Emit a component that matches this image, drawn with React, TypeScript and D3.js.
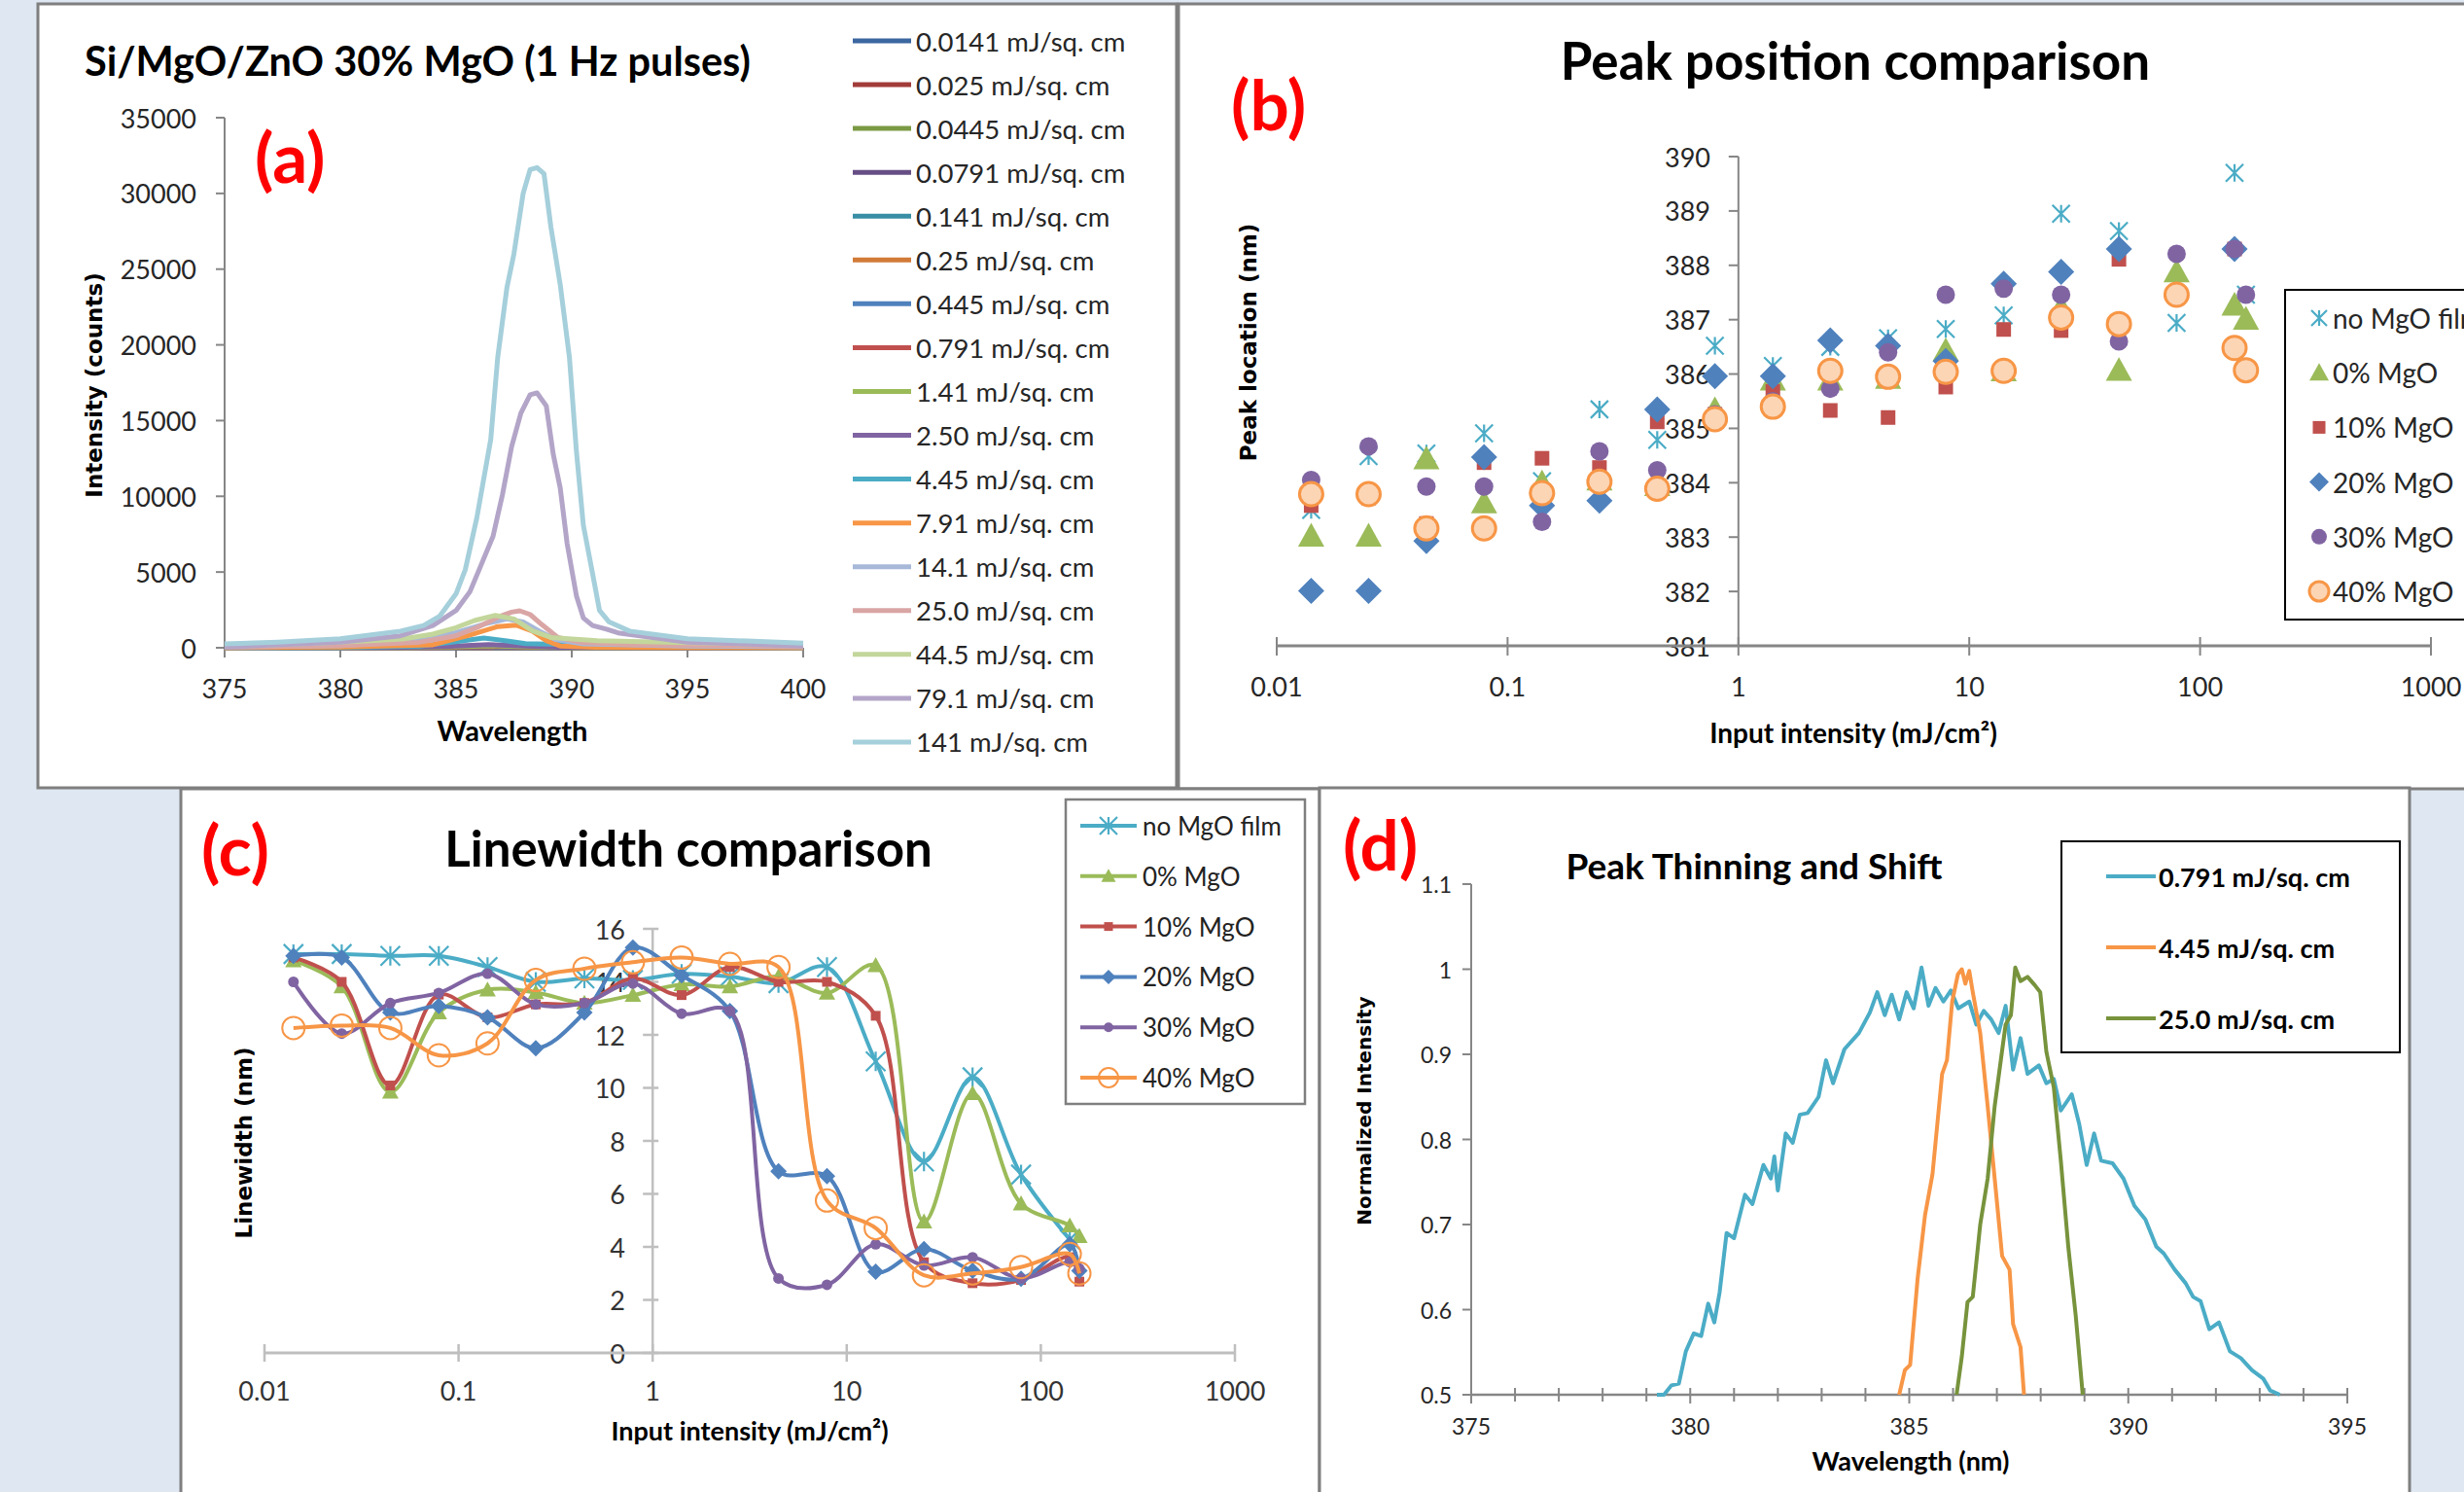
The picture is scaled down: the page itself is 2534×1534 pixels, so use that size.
import React from 'react';
import * as d3 from 'd3';

const FONT = "Lato, 'Open Sans', sans-serif";
const AXFONT = "'DejaVu Sans', Verdana, sans-serif";
const AXIS = '#868686';
const TXT = '#262626';
const RED = '#ff0000';

// ---------- (a) emission spectra, [wavelength nm, counts] ----------
const s0_0141: [number, number][] = [[375, 0], [386.5, 5], [400, 0]];
const s0_025: [number, number][] = [[375, 0], [386.5, 8], [400, 0]];
const s0_0445: [number, number][] = [[375, 0], [386.5, 12], [400, 0]];
const s0_0791: [number, number][] = [[375, 0], [386.5, 18], [400, 0]];
const s0_141: [number, number][] = [[375, 0], [385.5, 10], [386.5, 25], [388, 8], [400, 0]];
const s0_25: [number, number][] = [[375, 0], [385, 10], [386.5, 35], [388, 10], [400, 0]];
const s0_445: [number, number][] = [[375, 0], [385, 15], [386.5, 50], [388, 15], [400, 0]];
const s0_791: [number, number][] = [[375, 0], [384, 10], [386, 60], [387, 80], [388.5, 30], [400, 0]];
const s1_41: [number, number][] = [[375, 0], [383, 10], [385, 60], [386.5, 130], [388, 60], [390, 10], [400, 0]];
const s2_50: [number, number][] = [[375, 0], [382, 10], [384.5, 80], [386.4, 210], [388, 120], [389.5, 30], [400, 0]];
const s4_45: [number, number][] = [[375, 0], [380, 20], [383.5, 120], [385, 400], [386.2, 640], [387.2, 450], [388, 270], [389.5, 220], [391, 100], [395, 30], [400, 0]];
const s7_91: [number, number][] = [[375, 0], [380, 50], [384, 200], [385.5, 800], [386.8, 1400], [387.6, 1500], [388.3, 1100], [388.9, 470], [389.5, 120], [391, 40], [400, 0]];
const s14_1: [number, number][] = [[375, 50], [380, 150], [383, 400], [385, 1000], [386.3, 1600], [387.2, 1900], [387.9, 1700], [388.6, 1100], [389.3, 550], [390.5, 250], [395, 120], [400, 60]];
const s25_0: [number, number][] = [[375, 50], [380, 150], [383.4, 360], [385, 790], [385.9, 1330], [386.9, 2080], [387.4, 2350], [387.75, 2440], [388.2, 2200], [388.7, 1540], [389.4, 680], [390.4, 360], [393, 200], [400, 100]];
const s44_5: [number, number][] = [[375, 100], [379, 300], [381.3, 470], [382.7, 580], [384, 900], [385, 1330], [385.8, 1800], [386.7, 2140], [387.5, 1900], [388.3, 1110], [389.1, 680], [391.1, 470], [395, 330], [400, 200]];
const s79_1: [number, number][] = [[375, 50], [380, 370], [382.6, 790], [384, 1470], [385, 2460], [385.6, 3700], [386, 5160], [386.6, 7370], [387, 10070], [387.4, 13270], [387.8, 15480], [388.2, 16700], [388.5, 16830], [388.9, 15970], [389.2, 12780], [389.5, 10570], [389.8, 6880], [390.2, 3440], [390.5, 1970], [390.9, 1470], [391.5, 1230], [392, 980], [395, 370], [400, 120]];
const s141: [number, number][] = [[375, 250], [377.3, 370], [380, 600], [382.6, 1100], [383.6, 1470], [384.3, 2100], [385, 3560], [385.4, 5160], [385.9, 8600], [386.5, 13760], [386.8, 19160], [387.2, 23800], [387.5, 26000], [387.9, 30000], [388.2, 31570], [388.5, 31700], [388.8, 31300], [389.1, 27770], [389.5, 24000], [389.9, 19160], [390.2, 13000], [390.5, 8100], [390.9, 4900], [391.2, 2460], [391.6, 1720], [392.5, 1100], [395, 600], [400, 300]];

const spectra = [s0_0141, s0_025, s0_0445, s0_0791, s0_141, s0_25, s0_445, s0_791, s1_41, s2_50, s4_45, s7_91, s14_1, s25_0, s44_5, s79_1, s141];
const spectrumLabels = ['0.0141 mJ/sq. cm', '0.025 mJ/sq. cm', '0.0445 mJ/sq. cm', '0.0791 mJ/sq. cm', '0.141 mJ/sq. cm', '0.25 mJ/sq. cm', '0.445 mJ/sq. cm', '0.791 mJ/sq. cm', '1.41 mJ/sq. cm', '2.50 mJ/sq. cm', '4.45 mJ/sq. cm', '7.91 mJ/sq. cm', '14.1 mJ/sq. cm', '25.0 mJ/sq. cm', '44.5 mJ/sq. cm', '79.1 mJ/sq. cm', '141 mJ/sq. cm'];
const spectrumColors = ['#3c67a0', '#a13c39', '#7b9a43', '#664e85', '#388ea5', '#d27a37', '#4f81bd', '#c0504d', '#9bbb59', '#8064a2', '#4bacc6', '#f79646', '#a7b8d9', '#d9a6a5', '#c3d69b', '#b3a5c8', '#a5cfdb'];

// ---------- (b) and (c) ----------
const intensities = [0.0141, 0.025, 0.0445, 0.0791, 0.141, 0.25, 0.445, 0.791, 1.41, 2.5, 4.45, 7.91, 14.1, 25, 44.5, 79.1, 141, 158];
const filmLabels = ['no MgO film', '0% MgO', '10% MgO', '20% MgO', '30% MgO', '40% MgO'];
const filmColors = ['#4bacc6', '#9bbb59', '#c0504d', '#4f81bd', '#8064a2', '#f79646'];
const filmShapes = ['asterisk', 'triangle', 'square', 'diamond', 'circle', 'ring'];

const peakNoMgO = [383.5, 384.49, 384.54, 384.91, 384.03, 385.35, 384.79, 386.52, 386.15, 386.5, 386.66, 386.83, 387.08, 388.95, 388.63, 386.94, 389.7, 387.46];
const peak0 = [383.02, 383.02, 384.44, 383.63, 384.0, 384.05, 383.95, 385.35, 385.89, 385.89, 385.92, 386.43, 386.06, 387.22, 386.07, 387.88, 387.27, 387.01];
const peak10 = [383.58, 383.72, 383.25, 384.37, 384.45, 384.28, 385.12, 385.26, 385.68, 385.33, 385.2, 385.76, 386.82, 386.8, 388.11, 387.48, 388.3, null];
const peak20 = [382.01, 382.01, 382.93, 384.47, 383.58, 383.67, 385.35, 385.96, 385.96, 386.62, 386.52, 386.24, 387.66, 387.88, 388.3, null, 388.3, null];
const peak30 = [384.05, 384.67, 383.93, 383.93, 383.28, 384.58, 384.23, 385.26, 385.5, 385.73, 386.4, 387.46, 387.57, 387.46, 386.6, 388.21, 388.3, 387.46];
const peak40 = [383.79, 383.79, 383.16, 383.16, 383.81, 384.02, 383.89, 385.17, 385.4, 386.06, 385.95, 386.04, 386.06, 387.04, 386.92, 387.46, 386.48, 386.07];
const peakSeries = [peakNoMgO, peak0, peak10, peak20, peak30, peak40];

const widthNoMgO = [15.05, 15.05, 14.98, 14.98, 14.56, 14.0, 14.13, 14.07, 14.3, 14.2, 13.95, 14.56, 11.0, 7.22, 10.4, 6.73, 4.28, null];
const width0 = [14.8, 13.82, 9.85, 12.84, 13.7, 13.6, 13.2, 13.5, 13.9, 13.82, 14.2, 13.58, 14.62, 4.95, 9.79, 5.63, 4.8, 4.4];
const width10 = [14.92, 14.0, 10.09, 13.52, 12.66, 13.15, 13.2, 14.13, 13.5, 14.56, 14.0, 14.0, 12.72, 3.42, 2.63, 2.75, 3.61, 2.69];
const width20 = [14.98, 14.92, 12.84, 13.09, 12.66, 11.5, 12.84, 15.29, 14.25, 12.9, 6.85, 6.67, 3.06, 3.92, 3.1, 2.8, 4.1, 3.1];
const width30 = [14.0, 12.05, 13.2, 13.58, 14.31, 13.15, 13.2, 13.94, 12.8, 12.9, 2.81, 2.57, 4.1, 3.3, 3.61, 2.81, 3.43, 3.18];
const width40 = [12.26, 12.35, 12.26, 11.23, 11.68, 14.07, 14.5, 14.74, 14.92, 14.68, 14.56, 5.75, 4.71, 2.93, 3.0, 3.24, 3.73, 3.0];
const widthSeries = [widthNoMgO, width0, width10, width20, width30, width40];

const decadeLabels = ['0.01', '0.1', '1', '10', '100', '1000'];

// ---------- (d) normalized spectra ----------
const norm0_791: [number, number][] = [[379.24, 0.5], [379.4, 0.5], [379.57, 0.511], [379.74, 0.513], [379.9, 0.551], [380.08, 0.572], [380.25, 0.569], [380.41, 0.607], [380.55, 0.585], [380.67, 0.62], [380.83, 0.69], [381.0, 0.684], [381.25, 0.735], [381.42, 0.724], [381.67, 0.77], [381.84, 0.754], [381.92, 0.78], [382.0, 0.74], [382.18, 0.807], [382.34, 0.796], [382.5, 0.829], [382.68, 0.831], [382.93, 0.85], [383.1, 0.893], [383.26, 0.866], [383.52, 0.906], [383.85, 0.925], [384.1, 0.949], [384.27, 0.973], [384.44, 0.946], [384.6, 0.97], [384.77, 0.941], [384.94, 0.973], [385.1, 0.954], [385.28, 1.002], [385.44, 0.957], [385.6, 0.978], [385.78, 0.962], [385.95, 0.975], [386.12, 0.954], [386.37, 0.962], [386.53, 0.935], [386.7, 0.951], [386.87, 0.941], [387.04, 0.925], [387.2, 0.957], [387.37, 0.882], [387.54, 0.919], [387.7, 0.877], [387.96, 0.887], [388.13, 0.866], [388.3, 0.871], [388.46, 0.834], [388.71, 0.853], [388.88, 0.818], [389.05, 0.77], [389.22, 0.807], [389.38, 0.775], [389.64, 0.772], [389.89, 0.754], [390.14, 0.722], [390.39, 0.706], [390.64, 0.674], [390.81, 0.666], [391.06, 0.647], [391.31, 0.631], [391.48, 0.615], [391.65, 0.61], [391.85, 0.577], [392.07, 0.585], [392.32, 0.551], [392.57, 0.543], [392.82, 0.529], [393.08, 0.519], [393.24, 0.505], [393.46, 0.5]];
const norm4_45: [number, number][] = [[384.77, 0.5], [384.9, 0.529], [385.02, 0.535], [385.19, 0.636], [385.36, 0.711], [385.53, 0.759], [385.65, 0.823], [385.75, 0.877], [385.86, 0.893], [385.98, 0.962], [386.11, 0.994], [386.2, 1.0], [386.28, 0.983], [386.37, 0.998], [386.45, 0.973], [386.62, 0.925], [386.79, 0.839], [386.95, 0.754], [387.12, 0.663], [387.29, 0.647], [387.37, 0.583], [387.54, 0.556], [387.62, 0.5]];
const norm25_0: [number, number][] = [[386.08, 0.5], [386.2, 0.545], [386.33, 0.609], [386.45, 0.615], [386.62, 0.7], [386.79, 0.754], [386.95, 0.839], [387.09, 0.893], [387.2, 0.935], [387.32, 0.946], [387.42, 1.002], [387.54, 0.986], [387.7, 0.991], [387.87, 0.981], [387.99, 0.973], [388.13, 0.903], [388.3, 0.861], [388.46, 0.775], [388.63, 0.674], [388.8, 0.593], [388.96, 0.5]];
const normSeries = [norm0_791, norm4_45, norm25_0];
const normLabels = ['0.791 mJ/sq. cm', '4.45 mJ/sq. cm', '25.0 mJ/sq. cm'];
const normColors = ['#4bacc6', '#f79646', '#77933c'];

// ---------- helpers ----------
const Marker = ({ shape, x, y, size, color, small }: any) => {
  const h = size / 2;
  if (shape === 'asterisk') {
    return <path d={`M${x - h},${y - h}L${x + h},${y + h}M${x - h},${y + h}L${x + h},${y - h}M${x},${y - h}L${x},${y + h}`} stroke={color} strokeWidth={2.2} fill="none" />;
  }
  if (shape === 'triangle') {
    return <path d={`M${x},${y - h}L${x + h},${y + h * 0.8}L${x - h},${y + h * 0.8}Z`} fill={color} />;
  }
  if (shape === 'square') {
    return <rect x={x - h} y={y - h} width={size} height={size} fill={color} />;
  }
  if (shape === 'diamond') {
    return <path d={`M${x},${y - h}L${x + h},${y}L${x},${y + h}L${x - h},${y}Z`} fill={color} />;
  }
  if (shape === 'circle') {
    return <circle cx={x} cy={y} r={h} fill={color} />;
  }
  return <circle cx={x} cy={y} r={h} fill={small ? 'none' : '#fcd5b5'} stroke={color} strokeWidth={small ? 2 : 3} />;
};

const PanelLabel = ({ x, y, label }: any) => (
  <text x={x} y={y} fontFamily={FONT} fontWeight={700} fontSize={71} fill={RED}>{label}</text>
);

function PanelA() {
  const x = d3.scaleLinear().domain([375, 400]).range([231, 826]);
  const y = d3.scaleLinear().domain([0, 35000]).range([666, 121]);
  const line = d3.line<[number, number]>().x((d) => x(d[0])).y((d) => y(d[1]));
  return (
    <g>
      <rect x={39} y={4} width={1171} height={806} fill="#fff" stroke="#7f7f7f" strokeWidth={3} />
      <text x={87} y={78} fontFamily={FONT} fontWeight={700} fontSize={41.5} fill="#000">Si/MgO/ZnO 30% MgO (1 Hz pulses)</text>
      <line x1={x(375)} x2={x(375)} y1={y(0)} y2={y(35000)} stroke={AXIS} strokeWidth={2} />
      <line x1={x(375)} x2={x(400)} y1={y(0)} y2={y(0)} stroke={AXIS} strokeWidth={2} />
      {y.ticks(7).map((t) => (
        <g key={t}>
          <line x1={x(375) - 9} x2={x(375)} y1={y(t)} y2={y(t)} stroke={AXIS} strokeWidth={2} />
          <text x={202} y={y(t)} dominantBaseline="central" textAnchor="end" fontFamily={FONT} fontSize={27} fill={TXT}>{t}</text>
        </g>
      ))}
      {x.ticks(5).map((t) => (
        <g key={t}>
          <line x1={x(t)} x2={x(t)} y1={y(0)} y2={y(0) + 10} stroke={AXIS} strokeWidth={2} />
          <text x={x(t)} y={718} textAnchor="middle" fontFamily={FONT} fontSize={27} fill={TXT}>{t}</text>
        </g>
      ))}
      {spectra.map((s, i) => (
        <path key={i} d={line(s) || ''} fill="none" stroke={spectrumColors[i]} strokeWidth={5} strokeLinejoin="round" />
      ))}
      <text x={527} y={762} textAnchor="middle" fontFamily={FONT} fontWeight={700} fontSize={29} fill="#000">Wavelength</text>
      <text transform="translate(97,396) rotate(-90)" textAnchor="middle" dominantBaseline="central" fontFamily={AXFONT} fontWeight={700} fontSize={23} fill="#000">Intensity (counts)</text>
      {spectrumLabels.map((lab, i) => {
        const ly = 42 + i * 45.06;
        return (
          <g key={lab}>
            <line x1={877} x2={937} y1={ly} y2={ly} stroke={spectrumColors[i]} strokeWidth={5} />
            <text x={942} y={ly} dominantBaseline="central" fontFamily={FONT} fontSize={27.5} fill={TXT}>{lab}</text>
          </g>
        );
      })}
      <PanelLabel x={262} y={188} label="(a)" />
    </g>
  );
}

function PanelB() {
  const x = d3.scaleLog().domain([0.01, 1000]).range([1313, 2500]);
  const y = d3.scaleLinear().domain([381, 390]).range([664, 161]);
  const decades = x.ticks().filter((t) => Math.abs(Math.log10(t) - Math.round(Math.log10(t))) < 1e-9);
  return (
    <g>
      <rect x={1212} y={4} width={1340} height={807} fill="#fff" stroke="#7f7f7f" strokeWidth={3} />
      <text x={1908} y={82} textAnchor="middle" fontFamily={FONT} fontWeight={700} fontSize={53} fill="#000">Peak position comparison</text>
      <line x1={x(1)} x2={x(1)} y1={y(381)} y2={y(390)} stroke={AXIS} strokeWidth={2} />
      {y.ticks(9).map((t) => (
        <g key={t}>
          <line x1={x(1) - 10} x2={x(1)} y1={y(t)} y2={y(t)} stroke={AXIS} strokeWidth={2} />
          <text x={1759} y={y(t)} dominantBaseline="central" textAnchor="end" fontFamily={FONT} fontSize={27} fill={TXT}>{t}</text>
        </g>
      ))}
      <line x1={x(0.01)} x2={x(1000)} y1={y(381)} y2={y(381)} stroke={AXIS} strokeWidth={3} />
      {decades.map((t, i) => (
        <g key={t}>
          <line x1={x(t)} x2={x(t)} y1={y(381) - 9} y2={y(381) + 10} stroke={AXIS} strokeWidth={2} />
          <text x={x(t)} y={716} textAnchor="middle" fontFamily={FONT} fontSize={27} fill={TXT}>{decadeLabels[i]}</text>
        </g>
      ))}
      {peakSeries.map((vals, s) => (
        <g key={s}>
          {vals.map((v, i) => v == null ? null : (
            <Marker key={i} shape={filmShapes[s]} x={x(intensities[i])} y={y(v)} color={filmColors[s]}
              size={[18, 27, 15, 27, 19, 24][s]} />
          ))}
        </g>
      ))}
      <text x={1906} y={764} textAnchor="middle" fontFamily={FONT} fontWeight={700} fontSize={28} fill="#000">Input intensity (mJ/cm²)</text>
      <text transform="translate(1284,352) rotate(-90)" textAnchor="middle" dominantBaseline="central" fontFamily={AXFONT} fontWeight={700} fontSize={23} fill="#000">Peak location (nm)</text>
      <rect x={2350} y={298} width={220} height={339} fill="#fff" stroke="#000" strokeWidth={2} />
      {filmLabels.map((lab, i) => {
        const ly = 327 + i * 56.2;
        return (
          <g key={lab}>
            <Marker shape={filmShapes[i]} x={2385} y={ly} color={filmColors[i]} size={[16, 20, 13, 20, 16, 20][i]} />
            <text x={2399} y={ly} dominantBaseline="central" fontFamily={FONT} fontSize={28} fill={TXT}>{lab}</text>
          </g>
        );
      })}
      <PanelLabel x={1266} y={134} label="(b)" />
    </g>
  );
}

function PanelC() {
  const x = d3.scaleLog().domain([0.01, 1000]).range([272, 1270]);
  const y = d3.scaleLinear().domain([0, 16]).range([1391, 955]);
  const decades = x.ticks().filter((t) => Math.abs(Math.log10(t) - Math.round(Math.log10(t))) < 1e-9);
  const line = d3.line<number | null>()
    .defined((d) => d != null)
    .x((d, i) => x(intensities[i]))
    .y((d) => y(d as number))
    .curve(d3.curveCatmullRom.alpha(0.5));
  const LAX = '#bfbfbf';
  const sizes = [20, 17, 10, 17, 11, 23];
  return (
    <g>
      <rect x={186} y={811} width={1171} height={740} fill="#fff" stroke="#7f7f7f" strokeWidth={3} />
      <text x={708} y={891} textAnchor="middle" fontFamily={FONT} fontWeight={700} fontSize={51} fill="#000">Linewidth comparison</text>
      <line x1={x(1)} x2={x(1)} y1={y(0)} y2={y(16)} stroke={LAX} strokeWidth={2.5} />
      {y.ticks(8).map((t) => (
        <g key={t}>
          <line x1={x(1) - 10} x2={x(1) + 6} y1={y(t)} y2={y(t)} stroke={LAX} strokeWidth={2.5} />
          <text x={643} y={y(t)} dominantBaseline="central" textAnchor="end" fontFamily={FONT} fontSize={27} fill="#333">{t}</text>
        </g>
      ))}
      <line x1={x(0.01)} x2={x(1000)} y1={y(0)} y2={y(0)} stroke={LAX} strokeWidth={3} />
      {decades.map((t, i) => (
        <g key={t}>
          <line x1={x(t)} x2={x(t)} y1={y(0) - 9} y2={y(0) + 9} stroke={LAX} strokeWidth={2.5} />
          <text x={x(t)} y={1440} textAnchor="middle" fontFamily={FONT} fontSize={27} fill="#333">{decadeLabels[i]}</text>
        </g>
      ))}
      {widthSeries.map((vals, s) => (
        <g key={s}>
          <path d={line(vals) || ''} fill="none" stroke={filmColors[s]} strokeWidth={4} strokeLinejoin="round" />
          {vals.map((v, i) => v == null ? null : (
            <Marker key={i} shape={filmShapes[s]} x={x(intensities[i])} y={y(v)} color={filmColors[s]} size={sizes[s]} small />
          ))}
        </g>
      ))}
      <text x={771} y={1481} textAnchor="middle" fontFamily={FONT} fontWeight={700} fontSize={27} fill="#000">Input intensity (mJ/cm²)</text>
      <text transform="translate(251,1175) rotate(-90)" textAnchor="middle" dominantBaseline="central" fontFamily={AXFONT} fontWeight={700} fontSize={23} fill="#000">Linewidth (nm)</text>
      <rect x={1096} y={822} width={246} height={313} fill="#fff" stroke="#7f7f7f" strokeWidth={2.5} />
      {filmLabels.map((lab, i) => {
        const ly = 849 + i * 51.8;
        return (
          <g key={lab}>
            <line x1={1111} x2={1169} y1={ly} y2={ly} stroke={filmColors[i]} strokeWidth={4} />
            <Marker shape={filmShapes[i]} x={1140} y={ly} color={filmColors[i]} size={[18, 15, 9, 15, 10, 20][i]} small />
            <text x={1175} y={ly} dominantBaseline="central" fontFamily={FONT} fontSize={26} fill="#222">{lab}</text>
          </g>
        );
      })}
      <PanelLabel x={207} y={900} label="(c)" />
    </g>
  );
}

function PanelD() {
  const x = d3.scaleLinear().domain([375, 395]).range([1513, 2414]);
  const y = d3.scaleLinear().domain([0.5, 1.1]).range([1434, 909]);
  const line = d3.line<[number, number]>().x((d) => x(d[0])).y((d) => y(d[1]));
  const fmt = d3.format('~g');
  return (
    <g>
      <rect x={1357} y={810} width={1121} height={740} fill="#fff" stroke="#7f7f7f" strokeWidth={3} />
      <text x={1804} y={904} textAnchor="middle" fontFamily={FONT} fontWeight={700} fontSize={37} fill="#000">Peak Thinning and Shift</text>
      <line x1={x(375)} x2={x(375)} y1={y(0.5)} y2={y(1.1)} stroke={AXIS} strokeWidth={2} />
      {y.ticks(6).map((t) => (
        <g key={t}>
          <line x1={x(375) - 9} x2={x(375)} y1={y(t)} y2={y(t)} stroke={AXIS} strokeWidth={2} />
          <text x={1493} y={y(t)} dominantBaseline="central" textAnchor="end" fontFamily={FONT} fontSize={23} fill={TXT}>{fmt(t)}</text>
        </g>
      ))}
      <line x1={x(375)} x2={x(395)} y1={y(0.5)} y2={y(0.5)} stroke={AXIS} strokeWidth={2.5} />
      {x.ticks(20).map((t) => (
        <line key={t} x1={x(t)} x2={x(t)} y1={y(0.5) - 7} y2={y(0.5) + (t % 5 === 0 ? 9 : 7)} stroke={AXIS} strokeWidth={2} />
      ))}
      {x.ticks(4).map((t) => (
        <text key={t} x={x(t)} y={1475} textAnchor="middle" fontFamily={FONT} fontSize={23} fill={TXT}>{t}</text>
      ))}
      {normSeries.map((s, i) => (
        <path key={i} d={line(s) || ''} fill="none" stroke={normColors[i]} strokeWidth={4} strokeLinejoin="round" />
      ))}
      <text x={1965} y={1512} textAnchor="middle" fontFamily={FONT} fontWeight={700} fontSize={27} fill="#000">Wavelength (nm)</text>
      <text transform="translate(1403,1142) rotate(-90)" textAnchor="middle" dominantBaseline="central" fontFamily={AXFONT} fontWeight={700} fontSize={20} fill="#000">Normalized Intensity</text>
      <rect x={2120} y={865} width={348} height={217} fill="#fff" stroke="#000" strokeWidth={2} />
      {normLabels.map((lab, i) => {
        const ly = 901 + i * 73;
        return (
          <g key={lab}>
            <line x1={2166} x2={2217} y1={ly} y2={ly} stroke={normColors[i]} strokeWidth={4} />
            <text x={2220} y={ly} dominantBaseline="central" fontFamily={FONT} fontWeight={700} fontSize={27} fill="#000">{lab}</text>
          </g>
        );
      })}
      <PanelLabel x={1381} y={895} label="(d)" />
    </g>
  );
}

export default function App() {
  return (
    <svg width={2534} height={1534} style={{ position: 'absolute', left: 0, top: 0, display: 'block' }}>
      <rect x={0} y={0} width={2534} height={1534} fill="#dfe7f2" />
      <PanelA />
      <PanelB />
      <PanelC />
      <PanelD />
    </svg>
  );
}
